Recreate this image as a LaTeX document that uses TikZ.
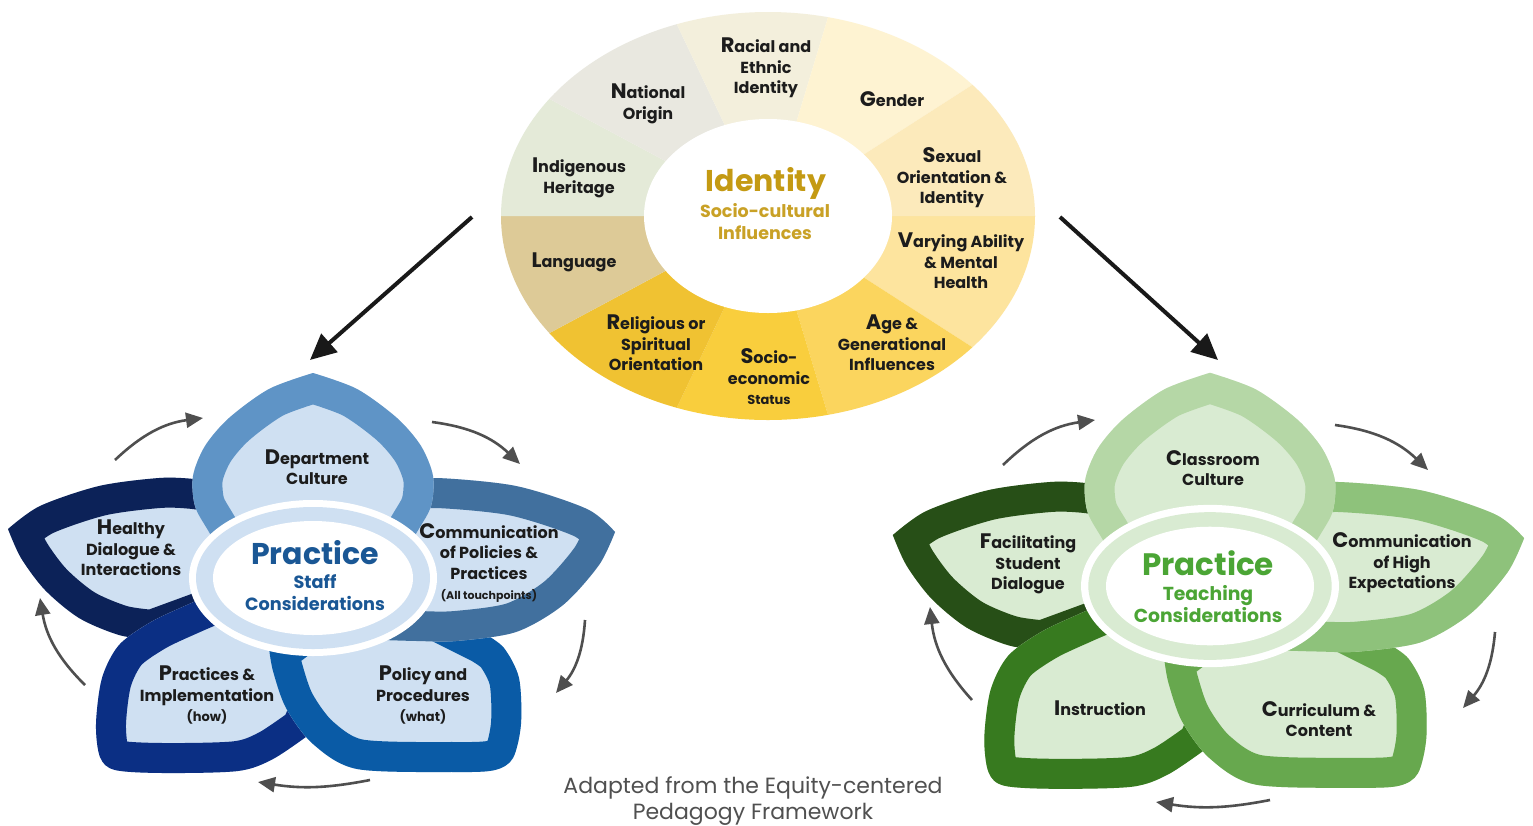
\documentclass[tikz,border=0pt]{standalone}
\usepackage{fontspec}
\setmainfont{Poppins}
\usetikzlibrary{arrows.meta}
% identity ring colours
\definecolor{sVar}{HTML}{FDE49E}
\definecolor{sAge}{HTML}{FBD55E}
\definecolor{sSoc}{HTML}{F9CE3D}
\definecolor{sRel}{HTML}{F0C232}
\definecolor{sLan}{HTML}{DDCA97}
\definecolor{sInd}{HTML}{E4EAD8}
\definecolor{sNat}{HTML}{E9E8E0}
\definecolor{sRac}{HTML}{F3EFDC}
\definecolor{sGen}{HTML}{FEF3D2}
\definecolor{sSex}{HTML}{FCEABB}
\definecolor{idgold}{HTML}{C49A13}
\definecolor{idsub}{HTML}{C9A126}
\definecolor{labc}{HTML}{1C1C1C}
% blue flower
\definecolor{bA}{HTML}{0C2258}
\definecolor{bB}{HTML}{0B2F84}
\definecolor{bC}{HTML}{0A5BA6}
\definecolor{bD}{HTML}{41709E}
\definecolor{bE}{HTML}{5F94C6}
\definecolor{bL}{HTML}{CFE0F2}
\definecolor{btext}{HTML}{1A5795}
% green flower
\definecolor{gA}{HTML}{274F17}
\definecolor{gB}{HTML}{377A1F}
\definecolor{gC}{HTML}{67A84E}
\definecolor{gD}{HTML}{8EC27B}
\definecolor{gE}{HTML}{B5D7A6}
\definecolor{gL}{HTML}{D9EBD2}
\definecolor{gtext}{HTML}{4BA535}
\definecolor{arrgray}{HTML}{4F4F4F}
\definecolor{capgray}{HTML}{505050}

\newcommand\dcap[1]{{\fontsize{21}{20}\selectfont #1}}
\newcommand\smalltext[1]{{\fontsize{13}{16}\selectfont #1}}
\newcommand\tinytext[1]{{\fontsize{11}{14}\selectfont #1}}

% petal outlines, relative to flower centre (y downwards)
\def\pTop{plot[smooth] coordinates {(70,10) (104,-46) (118,-72) (120,-102) (108,-132) (84,-160) (44,-189) (0,-205)} -- plot[smooth] coordinates {(0,-205) (-44,-189) (-84,-160) (-108,-132) (-120,-102) (-118,-72) (-104,-46) (-70,10)} -- cycle}
\def\pLeft{plot[smooth] coordinates {(-305,-49) (-273,-72) (-214,-92) (-154,-100) (-119,-99) (-90,-94)} -- (-50,-20) -- (-100,40) -- plot[smooth] coordinates {(-160,62) (-194,57) (-234,40) (-268,12) (-292,-20) (-305,-49)} -- cycle}
\def\pRight{plot[smooth] coordinates {(302,-46) (274,-69) (203,-92) (124,-100) (92,-96)} -- (50,-20) -- (40,50) -- plot[smooth] coordinates {(70,62) (104,63) (143,63) (203,54) (250,27) (286,-13) (302,-46)} -- cycle}
\def\pBL{plot[smooth] coordinates {(-3,156) (-40,181) (-75,193) (-150,195) (-198,192) (-213,179) (-217,146) (-211,100) (-194,67) (-162,44) (-126,27) (-105,18)} -- (-20,10) -- (20,100) -- cycle}
\def\pBR{plot[smooth] coordinates {(-44,70) (-40,93) (-27,130) (0,166) (44,191) (143,194) (182,192) (200,180) (208,146) (206,100) (191,70) (172,56)} -- (120,30) -- (20,20) -- cycle}

\newcommand\petal[3]{\fill[#3] #1; \begin{scope}\clip #1; \draw[#2,line width=60pt,line join=round] #1; \end{scope}}
\newcommand\flowerdraw[6]{%
  \petal\pLeft{#1}{#6}\petal\pBL{#2}{#6}\petal\pBR{#3}{#6}\petal\pRight{#4}{#6}\petal\pTop{#5}{#6}%
  \fill[white] (0,0) ellipse [x radius=124, y radius=78];
  \fill[#6] (0,0) ellipse [x radius=117, y radius=71];
  \fill[white] (0,0) ellipse [x radius=100, y radius=57];}
\newcommand\segm[3]{\fill[#1] (0,0) -- (#2:800 and 612) -- ({(#2+#3)/2}:800 and 612) -- (#3:800 and 612) -- cycle;}

\begin{document}
\begin{tikzpicture}[x=1pt,y=-1pt,
  lab/.style={font=\bfseries\fontsize{16}{20.5}\selectfont, text=labc, align=center, inner sep=0pt},
  cyc/.style={draw=arrgray, line width=2.6pt, -{Triangle[length=17pt,width=15pt]}},
  bigarr/.style={draw=black!90, line width=4pt, -{Triangle[length=26pt,width=24pt]}}]
\useasboundingbox (0,0) rectangle (1533,825);
\fill[white] (0,0) rectangle (1533,825);

% ---------- identity ring ----------
\begin{scope}[shift={(768,216)}]
  \begin{scope}
    \clip (0,0) ellipse [x radius=267, y radius=204];
    \segm{sVar}{0}{40}
    \segm{sAge}{40}{77}
    \segm{sSoc}{77}{110}
    \segm{sRel}{110}{145}
    \segm{sLan}{145}{180}
    \segm{sInd}{180}{215}
    \segm{sNat}{215}{250}
    \segm{sRac}{250}{283}
    \segm{sGen}{283}{320}
    \segm{sSex}{320}{360}
  \end{scope}
  \fill[white] (0,0) ellipse [x radius=124, y radius=97];
\end{scope}

\node[lab] (racial) at (766,68) {\dcap{R}acial and\\Ethnic\\Identity};
\node[lab] (national) at (648,104) {\dcap{N}ational\\Origin};
\node[lab] (gender) at (892,99) {\dcap{G}ender};
\node[lab] (indig) at (579,178) {\dcap{I}ndigenous\\Heritage};
\node[lab] (sexual) at (952,178) {\dcap{S}exual\\Orientation \&\\Identity};
\node[lab] (language) at (574,262) {\dcap{L}anguage};
\node[lab] (varying) at (961,261) {\dcap{V}arying Ability\\\& Mental\\Health};
\node[lab] (religious) at (656,343) {\dcap{R}eligious or\\Spiritual\\Orientation};
\node[lab] (socio) at (769,377) {\dcap{S}ocio-\\economic\\\smalltext{Status}};
\node[lab] (age) at (892,343) {\dcap{A}ge \&\\Generational\\Influences};
\node[font=\bfseries\fontsize{30}{32}\selectfont, text=idgold, inner sep=0pt] (identity) at (766,183) {Identity};
\node[font=\bfseries\fontsize{17.5}{22}\selectfont, text=idsub, align=center, inner sep=0pt] (idsubt) at (765,222) {Socio-cultural\\Influences};

% ---------- blue flower ----------
\begin{scope}[shift={(313,578)}]
  \flowerdraw{bA}{bB}{bC}{bD}{bE}{bL}
\end{scope}
\node[lab] (dept) at (317,467) {\dcap{D}epartment\\Culture};
\node[lab] (healthy) at (131,548) {\dcap{H}ealthy\\Dialogue \&\\Interactions};
\node[lab] (commpol) at (489,563) {\dcap{C}ommunication\\of Policies \&\\Practices\\\tinytext{(All touchpoints)}};
\node[lab] (practimp) at (207,695) {\dcap{P}ractices \&\\Implementation\\\smalltext{(how)}};
\node[lab] (policy) at (423,695) {\dcap{P}olicy and\\Procedures\\\smalltext{(what)}};
\node[font=\bfseries\fontsize{30}{32}\selectfont, text=btext, inner sep=0pt] (bpract) at (315,553) {Practice};
\node[font=\bfseries\fontsize{17.7}{22}\selectfont, text=btext, align=center, inner sep=0pt] (bsub) at (315,593) {Staff\\Considerations};

% ---------- green flower ----------
\begin{scope}[shift={(1210,586)}, scale=1.04]
  \flowerdraw{gA}{gB}{gC}{gD}{gE}{gL}
\end{scope}
\node[lab] (classroom) at (1213,468) {\dcap{C}lassroom\\Culture};
\node[lab] (facil) at (1028,564) {\dcap{F}acilitating\\Student\\Dialogue};
\node[lab] (commhigh) at (1402,563) {\dcap{C}ommunication\\of High\\Expectations};
\node[lab] (instr) at (1100,708) {\dcap{I}nstruction};
\node[lab] (curric) at (1319,719) {\dcap{C}urriculum \&\\Content};
\node[font=\bfseries\fontsize{31}{33}\selectfont, text=gtext, inner sep=0pt] (gpract) at (1208,563) {Practice};
\node[font=\bfseries\fontsize{18.8}{22.5}\selectfont, text=gtext, align=center, inner sep=0pt] (gsub) at (1208,604) {Teaching\\Considerations};

% ---------- big arrows ----------
\coordinate (bigL1) at (472,217);
\coordinate (bigL2) at (310,360);
\coordinate (bigR1) at (1060,217);
\coordinate (bigR2) at (1218,360);
\draw[bigarr] (bigL1) -- (bigL2);
\draw[bigarr] (bigR1) -- (bigR2);

% ---------- cycle arrows (blue) ----------
\coordinate (ba1) at (115,460); \coordinate (ba2) at (203,418);
\coordinate (ba3) at (432,422); \coordinate (ba4) at (520,464);
\coordinate (ba5) at (585,620); \coordinate (ba6) at (556,693);
\coordinate (ba7) at (370,780); \coordinate (ba8) at (258,782);
\coordinate (ba9) at (85,685);  \coordinate (ba10) at (40,598);
\draw[cyc] (ba1) to[bend left=18] (ba2);
\draw[cyc] (ba3) to[bend left=18] (ba4);
\draw[cyc] (ba5) to[bend left=18] (ba6);
\draw[cyc] (ba7) to[bend left=10] (ba8);
\draw[cyc] (ba9) to[bend left=18] (ba10);

% ---------- cycle arrows (green) ----------
\coordinate (ga1) at (1003,465); \coordinate (ga2) at (1095,420);
\coordinate (ga3) at (1335,425); \coordinate (ga4) at (1428,470);
\coordinate (ga5) at (1495,632); \coordinate (ga6) at (1463,708);
\coordinate (ga7) at (1270,800); \coordinate (ga8) at (1156,802);
\coordinate (ga9) at (972,700);  \coordinate (ga10) at (930,607);
\draw[cyc] (ga1) to[bend left=18] (ga2);
\draw[cyc] (ga3) to[bend left=18] (ga4);
\draw[cyc] (ga5) to[bend left=18] (ga6);
\draw[cyc] (ga7) to[bend left=10] (ga8);
\draw[cyc] (ga9) to[bend left=18] (ga10);

% ---------- caption ----------
\node[font=\fontsize{22}{25.5}\selectfont, text=capgray, align=center, inner sep=0pt] (caption) at (753,801) {Adapted from the Equity-centered\\Pedagogy Framework};
\end{tikzpicture}
\end{document}
